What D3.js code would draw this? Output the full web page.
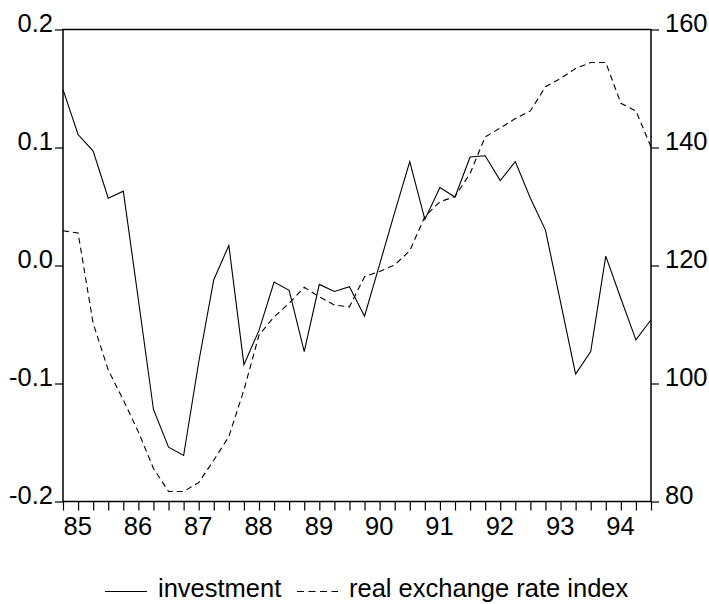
<!DOCTYPE html>
<html>
<head>
<meta charset="utf-8">
<script src="https://cdn.jsdelivr.net/npm/d3@7"></script>
<style>
body { margin: 0; background: #fff; }
text { font-family: "Liberation Sans", Arial, sans-serif; fill: #000; }
</style>
</head>
<body>
<div id="chart1"></div>
<script>
// Data: quarterly, 1985Q1 .. 1994Q4
var years = ["85","86","87","88","89","90","91","92","93","94"];
var quarters = 4;
var investment = [
	0.149, 0.111, 0.097, 0.057, 0.063, -0.029, -0.122, -0.154, -0.161, -0.082,
	-0.012, 0.017, -0.084, -0.055, -0.014, -0.021, -0.073, -0.016, -0.022, -0.018,
	-0.043, 0.001, 0.045, 0.088, 0.039, 0.066, 0.058, 0.092, 0.093, 0.072,
	0.088, 0.057, 0.030, -0.031, -0.092, -0.073, 0.008, -0.028, -0.063, -0.046
];
var exchangeRate = [
	125.9, 125.5, 110.2, 102.3, 97.2, 91.8, 85.6, 81.7, 81.7, 83.2,
	87.0, 91.0, 98.9, 108.2, 111.3, 113.6, 116.3, 114.7, 113.3, 113.0,
	118.1, 119.0, 120.1, 122.5, 128.3, 130.8, 131.7, 135.6, 141.8, 143.3,
	144.9, 146.2, 150.3, 151.7, 153.4, 154.4, 154.4, 147.5, 146.2, 140.1
];
var leftTicks = [-0.2, -0.1, 0.0, 0.1, 0.2];
var leftLabels = ["-0.2", "-0.1", "0.0", "0.1", "0.2"];
var rightTicks = [80, 100, 120, 140, 160];
var seriesNames = ["investment", "real exchange rate index"];

var cfg = {
	width: 709,
	height: 604,
	left: 63,
	right: 651,
	top: 29.5,
	bottom: 501.5,
	fontSize: 25.5
};

var svg1 = d3.select("#chart1").append("svg")
	.attr("width", cfg.width)
	.attr("height", cfg.height);

var x = d3.scaleLinear().domain([0, investment.length - 1]).range([cfg.left, cfg.right]);
var yL = d3.scaleLinear().domain([-0.2, 0.2]).range([cfg.bottom, cfg.top]);
var yR = d3.scaleLinear().domain([80, 160]).range([cfg.bottom, cfg.top]);

// frame
svg1.append("rect")
	.attr("x", cfg.left).attr("y", cfg.top)
	.attr("width", cfg.right - cfg.left).attr("height", cfg.bottom - cfg.top)
	.attr("fill", "none").attr("stroke", "#000").attr("stroke-width", 1.5);

// left axis
var gL = svg1.append("g")
	.attr("transform", "translate(" + cfg.left + ",0)")
	.call(d3.axisLeft(yL).tickValues(leftTicks).tickSize(8).tickPadding(2)
		.tickFormat(function(d,i){ return leftLabels[i]; }));
gL.select(".domain").remove();
gL.selectAll("line").attr("stroke-width", 1.2);
gL.selectAll("text")
	.attr("font-size", cfg.fontSize).attr("font-family", null)
	.attr("dy", "0.08em");

// right axis
var gR = svg1.append("g")
	.attr("transform", "translate(" + cfg.right + ",0)")
	.call(d3.axisRight(yR).tickValues(rightTicks).tickSize(8).tickPadding(6));
gR.select(".domain").remove();
gR.selectAll("line").attr("stroke-width", 1.2);
gR.selectAll("text")
	.attr("font-size", cfg.fontSize).attr("font-family", null)
	.attr("dy", "0.08em");

// bottom axis: a tick at every quarter, year label at Q1
var gB = svg1.append("g")
	.attr("transform", "translate(0," + cfg.bottom + ")")
	.call(d3.axisBottom(x).tickValues(d3.range(investment.length)).tickSize(9).tickPadding(6)
		.tickFormat(function(d){ return d % quarters === 0 ? years[d / quarters] : ""; }));
gB.select(".domain").remove();
gB.selectAll("line").attr("stroke-width", 1.2);
gB.selectAll("text")
	.attr("font-size", cfg.fontSize).attr("font-family", null)
	.attr("text-anchor", "start")
	.attr("x", 0)
	.attr("dy", "0.71em");

// series
var lineInv = d3.line()
	.x(function(d,i){ return x(i); })
	.y(function(d){ return yL(d); });
var lineRer = d3.line()
	.x(function(d,i){ return x(i); })
	.y(function(d){ return yR(d); });

svg1.append("path")
	.datum(investment)
	.attr("d", lineInv)
	.attr("fill", "none").attr("stroke", "#000").attr("stroke-width", 1.1);

svg1.append("path")
	.datum(exchangeRate)
	.attr("d", lineRer)
	.attr("fill", "none").attr("stroke", "#000").attr("stroke-width", 1.1)
	.attr("stroke-dasharray", "6,4");

// legend
var leg = svg1.append("g");
leg.append("line")
	.attr("x1", 105).attr("x2", 147).attr("y1", 591.5).attr("y2", 591.5)
	.attr("stroke", "#000").attr("stroke-width", 1.1);
leg.append("text")
	.attr("x", 158).attr("y", 597)
	.attr("font-size", cfg.fontSize)
	.text(seriesNames[0]);
leg.append("line")
	.attr("x1", 297).attr("x2", 338).attr("y1", 591.5).attr("y2", 591.5)
	.attr("stroke", "#000").attr("stroke-width", 1.1)
	.attr("stroke-dasharray", "7,4.5");
leg.append("text")
	.attr("x", 349).attr("y", 597)
	.attr("font-size", cfg.fontSize)
	.text(seriesNames[1]);
</script>
</body>
</html>
